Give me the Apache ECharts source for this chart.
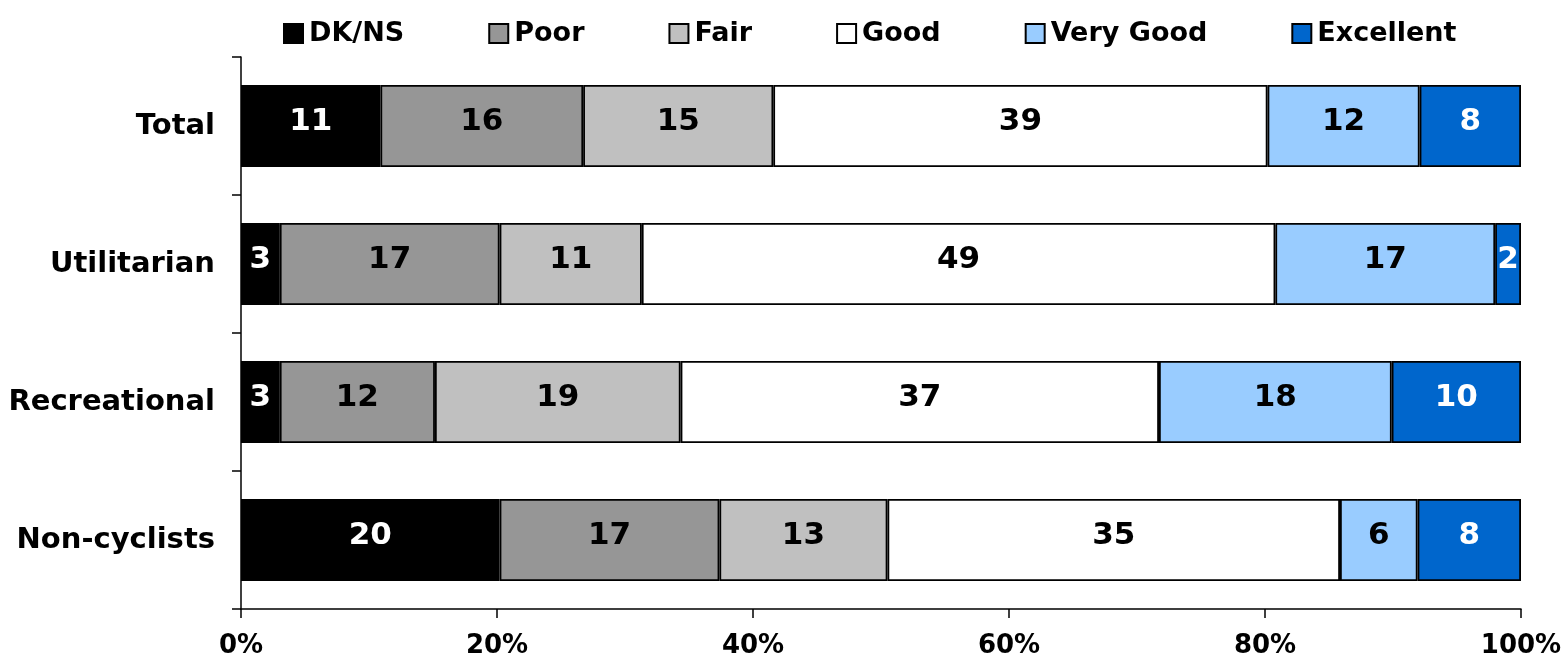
<!DOCTYPE html>
<html><head><meta charset="utf-8">
<script src="https://cdn.jsdelivr.net/npm/echarts@6/dist/echarts.min.js"></script>
<style>html,body{margin:0;padding:0;background:#fff}#c{width:1568px;height:656px}</style>
</head><body><div id="c"></div>
<script>
const categories = ['Total', 'Utilitarian', 'Recreational', 'Non-cyclists'];
const seriesNames = ['DK/NS', 'Poor', 'Fair', 'Good', 'Very Good', 'Excellent'];
const dkns = [11, 3, 3, 20];
const poor = [16, 17, 12, 17];
const fair = [15, 11, 19, 13];
const good = [39, 49, 37, 35];
const veryGood = [12, 17, 18, 6];
const excellent = [8, 2, 10, 8];
const xTicks = [0, 20, 40, 60, 80, 100];

const colors = ['#000000', '#969696', '#C0C0C0', '#FFFFFF', '#99CCFF', '#0066CC'];
const labelColors = ['#FFFFFF', '#000000', '#000000', '#000000', '#000000', '#FFFFFF'];
const all = [dkns, poor, fair, good, veryGood, excellent];
const totals = categories.map((_, i) => all.reduce((s, a) => s + a[i], 0));
const FONT = 'DejaVu Sans, sans-serif';

const series = all.map((arr, k) => ({
  name: seriesNames[k],
  type: 'bar',
  stack: 'all',
  barWidth: 82,
  data: arr.map((v, i) => ({ value: v / totals[i] * 100, raw: v })),
  itemStyle: { color: colors[k], borderColor: '#000', borderWidth: 1.8 },
  label: {
    show: true, position: 'inside', offset: [0, -4],
    formatter: p => String(p.data.raw),
    color: labelColors[k], fontFamily: FONT, fontWeight: 'bold', fontSize: 31
  },
  emphasis: { disabled: true }
}));

const chart = echarts.init(document.getElementById('c'), null, { renderer: 'canvas' });
chart.setOption({
  animation: false,
  backgroundColor: '#fff',
  legend: {
    top: 20, left: 283, padding: 0,
    itemWidth: 19, itemHeight: 19, itemGap: 84,
    icon: 'rect',
    textStyle: { fontFamily: FONT, fontWeight: 'bold', fontSize: 27, color: '#000', padding: [0, 0, 0, 1] },
    data: seriesNames
  },
  grid: { left: 241, right: 47, top: 57, bottom: 47, containLabel: false, outerBoundsMode: 'none' },
  xAxis: {
    type: 'value', min: 0, max: 100, interval: 20,
    axisLine: { show: true, lineStyle: { color: '#000', width: 1.5 } },
    axisTick: { show: true, length: 9, lineStyle: { color: '#000', width: 1.5 } },
    splitLine: { show: false },
    axisLabel: { formatter: v => v + '%', fontFamily: FONT, fontWeight: 'bold', fontSize: 26, color: '#000', margin: 24 }
  },
  yAxis: {
    type: 'category', data: categories, inverse: true,
    axisLine: { show: true, lineStyle: { color: '#000', width: 1.5 } },
    axisTick: { show: true, length: 9, lineStyle: { color: '#000', width: 1.5 } },
    axisLabel: { fontFamily: FONT, fontWeight: 'bold', fontSize: 29, color: '#000', margin: 26, padding: [0, 0, 8, 0] }
  },
  series
});
</script></body></html>
